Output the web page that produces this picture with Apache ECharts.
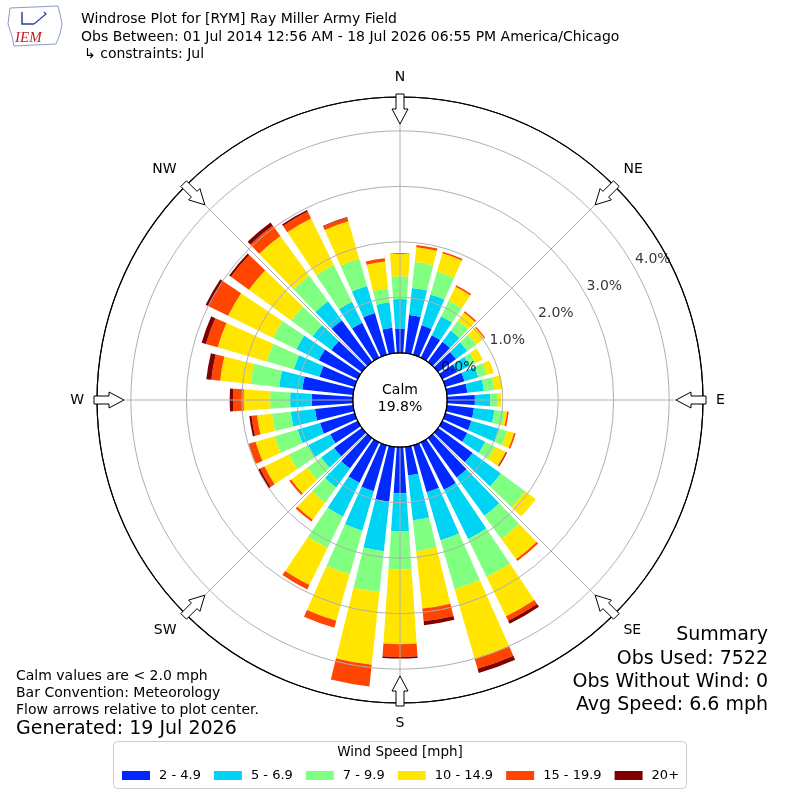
<!DOCTYPE html>
<html><head><meta charset="utf-8">
<script src="https://cdn.jsdelivr.net/npm/echarts@6/dist/echarts.min.js"></script>
<style>html,body{margin:0;padding:0;background:#fff}#c{width:800px;height:800px}</style>
</head><body><div id="c"></div>
<script>
// ---- data (percent of observations), directions are bearings the wind blows FROM ----
const directions = [0,10,20,30,40,50,60,70,80,90,100,110,120,130,140,150,160,170,180,190,200,210,220,230,240,250,260,270,280,290,300,310,320,330,340,350];
const speedBins = ['2 - 4.9','5 - 6.9','7 - 9.9','10 - 14.9','15 - 19.9','20+'];
const speed2to5   = [0.44,0.69,0.55,0.45,0.45,0.40,0.30,0.36,0.37,0.50,0.49,0.49,0.50,0.77,0.88,0.95,0.88,0.52,0.83,0.99,0.86,0.81,0.68,0.62,0.55,0.65,0.69,0.74,0.92,0.66,0.78,0.68,0.93,0.70,0.78,0.46];
const speed5to7   = [0.53,0.49,0.58,0.38,0.25,0.25,0.25,0.26,0.30,0.28,0.37,0.52,0.36,0.63,0.85,0.99,0.90,0.81,0.69,0.90,0.74,0.68,0.42,0.29,0.44,0.42,0.44,0.39,0.42,0.48,0.45,0.42,0.42,0.42,0.51,0.46];
const speed7to10  = [0.41,0.47,0.43,0.31,0.22,0.20,0.12,0.16,0.19,0.12,0.18,0.15,0.20,0.54,0.52,0.76,0.92,0.56,0.68,0.74,0.82,0.63,0.34,0.31,0.39,0.43,0.34,0.36,0.52,0.51,0.47,0.48,0.57,0.74,0.51,0.25];
const speed10to15 = [0.42,0.27,0.34,0.28,0.18,0.18,0.14,0.13,0.15,0.07,0.05,0.13,0.21,0.24,0.45,0.79,1.31,1.04,1.35,1.32,0.87,0.74,0.38,0.36,0.49,0.36,0.27,0.48,0.55,0.92,0.90,0.94,0.89,0.93,0.70,0.49];
const speed15to20 = [0,0.04,0.03,0.03,0.03,0.02,0,0,0,0,0.03,0.03,0.015,0,0.04,0.09,0.18,0.23,0.23,0.39,0.13,0.09,0.04,0.04,0.09,0.13,0.10,0.19,0.16,0.22,0.39,0.40,0.23,0.14,0.07,0.06];
const speed20plus = [0,0,0,0,0,0,0,0,0,0,0,0,0.015,0,0,0.06,0.08,0.07,0.03,0,0,0,0,0,0.04,0,0.04,0.06,0.09,0.08,0.06,0.04,0.07,0.03,0.01,0];
const radialTicks = [0,1,2,3,4];
const compassAngles = [0,45,90,135,180,225,270,315];
const compassNames = ['N','NE','E','SE','S','SW','W','NW'];
const calmPct = 19.8;
const radialMax = 4.61;

// ---- styles ----
const binColors = ['#0028ff','#00d4f5','#80ff80','#ffe500','#ff4500','#800000'];
const FONT = '"DejaVu Sans", sans-serif';
const seriesValues = [speed2to5, speed5to7, speed7to10, speed10to15, speed15to20, speed20plus];

const chart = echarts.init(document.getElementById('c'));

function txt(x, y, s, size, align) {
  return {type:'text', x:x, y:y, z:50, style:{text:s, font: size + 'px ' + FONT, fill:'#000',
    align: align || 'left', textAlign: align || 'left', verticalAlign:'middle', textVerticalAlign:'middle'}};
}

const barSeries = speedBins.map((name, i) => ({
  name: name, type: 'bar', coordinateSystem: 'polar', polarIndex: 0, stack: 'wind',
  data: seriesValues[i], barCategoryGap: '22%', itemStyle: {color: binColors[i]}, z: 2, silent: true
}));

const option = {
  backgroundColor: '#fff',
  animation: false,
  textStyle: {fontFamily: FONT},
  polar: [
    {center: ['50%','50%'], radius: [47.2, 303]},
    {center: ['50%','50%'], radius: [47.2, 303]}
  ],
  angleAxis: [
    {polarIndex: 0, type: 'category', data: directions, startAngle: 95, clockwise: true,
     axisLine: {show: false}, axisTick: {show: false}, axisLabel: {show: false}, splitLine: {show: false}},
    {polarIndex: 1, type: 'value', min: 0, max: 360, interval: 45, startAngle: 90, clockwise: true, z: 10,
     axisLine: {show: true, lineStyle: {color: '#000', width: 1.2}},
     axisTick: {show: false},
     splitLine: {show: true, lineStyle: {color: '#b0b0b0', width: 1}},
     axisLabel: {show: true, margin: 13, fontSize: 14, color: '#000', fontFamily: FONT,
       formatter: v => { const k = compassAngles.indexOf(v); return k >= 0 ? compassNames[k] : ''; }}}
  ],
  radiusAxis: [
    {polarIndex: 0, type: 'value', min: 0, max: radialMax, show: false},
    {polarIndex: 1, type: 'value', min: 0, max: radialMax, interval: 1, z: 10,
     axisLine: {show: false}, axisTick: {show: false}, axisLabel: {show: false},
     splitLine: {show: true, lineStyle: {color: ['#000','#b0b0b0','#b0b0b0','#b0b0b0','#b0b0b0','#000'], width: 1}}}
  ],
  legend: {
    data: speedBins, left: 117, top: 764, icon: 'rect', itemWidth: 28, itemHeight: 9, itemGap: 13,
    selectedMode: false, z: 20,
    textStyle: {fontSize: 13, color: '#000', fontFamily: FONT, padding: [0,0,0,4]}
  },
  series: barSeries.concat([
    {
      type: 'scatter', coordinateSystem: 'polar', polarIndex: 1, z: 11, silent: true,
      symbolSize: 1, itemStyle: {color: 'rgba(0,0,0,0)'},
      data: radialTicks.map(t => [t + 0.36, 61]),
      label: {show: true, position: 'inside', color: '#000', fontSize: 14, fontFamily: FONT,
        formatter: p => radialTicks[p.dataIndex].toFixed(1) + '%'}
    },
    {
      type: 'custom', coordinateSystem: 'polar', polarIndex: 1, z: 12, silent: true,
      data: compassAngles.map(a => [radialMax, a]),
      renderItem: function (params, api) {
        const ang = api.value(1);
        const outer = api.coord([radialMax, ang]);
        const inner = api.coord([0, ang]);
        let ux = inner[0] - outer[0], uy = inner[1] - outer[1];
        const L = Math.hypot(ux, uy); ux /= L; uy /= L;
        const px = -uy, py = ux;
        const P = (d, w) => [outer[0] + ux * d + px * w, outer[1] + uy * d + py * w];
        const pts = [P(-3, 4), P(12, 4), P(12, 8), P(27, 0), P(12, -8), P(12, -4), P(-3, -4)];
        return {type: 'polygon', shape: {points: pts}, style: {fill: '#fff', stroke: '#000', lineWidth: 1}};
      }
    }
  ]),
  graphic: [
    // logo (approximate)
    {type:'polyline', z:50, shape:{points:[[10,8],[58,6],[60,14],[62,24],[60,34],[56,44],[14,46],[12,36],[8,24],[10,8]]},
      style:{stroke:'#8a9ac8', lineWidth:1, fill:'none'}},
    {type:'polyline', z:50, shape:{points:[[22,12],[22,24],[34,24]]}, style:{stroke:'#2a3fa0', lineWidth:1.5, fill:'none'}},
    {type:'polyline', z:50, shape:{points:[[34,24],[46,14],[44,12]]}, style:{stroke:'#2a3fa0', lineWidth:1.2, fill:'none'}},
    {type:'text', x:15, y:38, z:50, style:{text:'IEM', font:'italic 15px "Liberation Serif", serif', fill:'#c02020', verticalAlign:'middle', textVerticalAlign:'middle'}},
    // title
    txt(81, 19, 'Windrose Plot for [RYM] Ray Miller Army Field', 14),
    txt(81, 37, 'Obs Between: 01 Jul 2014 12:56 AM - 18 Jul 2026 06:55 PM America/Chicago', 14),
    txt(84, 54, '\u21b3 constraints: Jul', 14),
    // calm
    txt(400, 390, 'Calm', 14, 'center'),
    txt(400, 407, calmPct.toFixed(1) + '%', 14, 'center'),
    // bottom-left notes
    txt(16, 676, 'Calm values are < 2.0 mph', 14),
    txt(16, 693, 'Bar Convention: Meteorology', 14),
    txt(16, 710, 'Flow arrows relative to plot center.', 14),
    txt(16, 729, 'Generated: 19 Jul 2026', 19),
    // summary
    txt(768, 635, 'Summary', 19, 'right'),
    txt(768, 659, 'Obs Used: 7522', 19, 'right'),
    txt(768, 682, 'Obs Without Wind: 0', 19, 'right'),
    txt(768, 705, 'Avg Speed: 6.6 mph', 19, 'right'),
    // legend frame and title
    {type:'rect', z:1, shape:{x:113.5, y:741.5, width:573, height:47, r:4}, style:{fill:'#fff', stroke:'#cccccc', lineWidth:1}},
    txt(400, 752, 'Wind Speed [mph]', 13.5, 'center')
  ]
};
chart.setOption(option);
</script>
</body></html>
